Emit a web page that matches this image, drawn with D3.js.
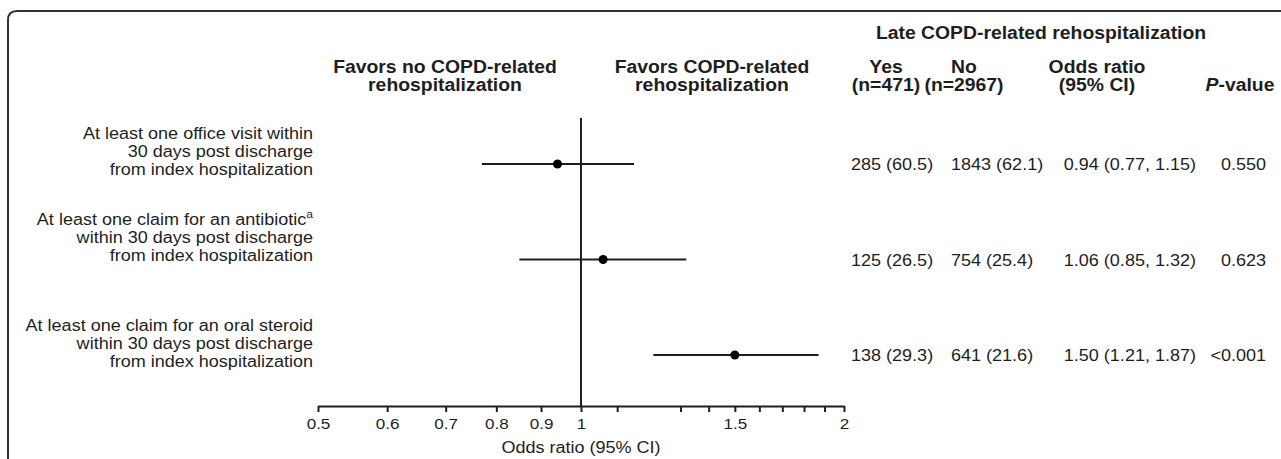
<!DOCTYPE html>
<html><head><meta charset="utf-8">
<script src="https://cdn.jsdelivr.net/npm/d3@7"></script>
<style>
html,body{margin:0;padding:0;background:#fff;}
svg{display:block;font-family:"Liberation Sans",Arial,sans-serif;}
</style></head>
<body>
<svg id="chart" width="1281" height="459"></svg>
<script>
// ---- data ----
const rowLabels = [
  ["At least one office visit within", "30 days post discharge", "from index hospitalization"],
  ["At least one claim for an antibiotic", "within 30 days post discharge", "from index hospitalization"],
  ["At least one claim for an oral steroid", "within 30 days post discharge", "from index hospitalization"]
];
const rowSup = ["", "a", ""];
const oddsRatio = [0.94, 1.06, 1.50];
const ciLow = [0.77, 0.85, 1.21];
const ciHigh = [1.15, 1.32, 1.87];
const yesText = ["285 (60.5)", "125 (26.5)", "138 (29.3)"];
const noText = ["1843 (62.1)", "754 (25.4)", "641 (21.6)"];
const orText = ["0.94 (0.77, 1.15)", "1.06 (0.85, 1.32)", "1.50 (1.21, 1.87)"];
const pText = ["0.550", "0.623", "<0.001"];
const tickValues = [0.5, 0.6, 0.7, 0.8, 0.9, 1, 1.1, 1.3, 1.4, 1.5, 1.6, 1.7, 1.8, 1.9, 2];
const tickLabels = ["0.5", "0.6", "0.7", "0.8", "0.9", "1", "", "", "", "1.5", "", "", "", "", "2"];
const axisTitle = "Odds ratio (95% CI)";
const groupTitle = "Late COPD-related rehospitalization";
const favorLeft = ["Favors no COPD-related", "rehospitalization"];
const favorRight = ["Favors COPD-related", "rehospitalization"];
const colHeads = [["Yes", "(n=471)"], ["No", "(n=2967)"], ["Odds ratio", "(95% CI)"]];

// ---- layout ----
const svg = d3.select("#chart");
const ink = "#1e1e1e";
const fs = 16.4;      // body font size
const fsB = 17.6;     // bold header size
const sx = 1.1;       // horizontal text stretch, as in the reference
const x = d3.scaleLog().domain([0.5, 2]).range([318, 844]);
const y = d3.scalePoint().domain(d3.range(rowLabels.length)).range([164, 355]);
const axisY = 406;
const labelTop = [133, 219, 325];
const lineGap = 18;

// frame
svg.append("path")
  .attr("d", "M8,470 L8,20 Q8,11 17,11 L1285,11")
  .attr("fill", "none").attr("stroke", "#333").attr("stroke-width", 2);

const t = (txt, xx, yy, anchor, weight, size) => svg.append("text")
  .attr("transform", `translate(${xx},${yy}) scale(${sx},1)`)
  .attr("text-anchor", anchor).attr("font-size", size || fs)
  .attr("font-weight", weight || "normal").attr("fill", ink).text(txt);

// header texts
t(groupTitle, 1041, 39, "middle", "bold", fsB);
favorLeft.forEach((s, i) => t(s, 445, 73 + i * lineGap, "middle", "bold", fsB));
favorRight.forEach((s, i) => t(s, 712, 73 + i * lineGap, "middle", "bold", fsB));
const colX = [886, 964, 1097];
colHeads.forEach((h, j) => h.forEach((s, i) => t(s, colX[j], 73 + i * lineGap, "middle", "bold", fsB)));
const pv = t(null, 1240, 91, "middle", "bold", fsB);
pv.append("tspan").attr("font-style", "italic").text("P");
pv.append("tspan").text("-value");

// row labels
rowLabels.forEach((lines, r) => {
  lines.forEach((s, i) => {
    const el = t(s, 313, labelTop[r] + 6 + i * lineGap, "end");
    if (i === 0 && rowSup[r]) {
      el.text(null);
      el.append("tspan").text(s);
      el.append("tspan").attr("font-size", 11).attr("dy", -7).text(rowSup[r]);
    }
  });
});

// reference line at OR = 1
svg.append("line")
  .attr("x1", x(1)).attr("x2", x(1)).attr("y1", 118).attr("y2", axisY)
  .attr("stroke", ink).attr("stroke-width", 2);

// axis
const axis = d3.axisBottom(x).tickValues(tickValues)
  .tickFormat((d, i) => tickLabels[i]).tickSize(6).tickSizeOuter(0).tickPadding(6);
const ag = svg.append("g").attr("transform", `translate(0,${axisY})`).call(axis);
ag.select(".domain").attr("stroke", ink).attr("stroke-width", 2);
ag.selectAll(".tick line").attr("stroke", ink).attr("stroke-width", 2);
ag.selectAll(".tick text").attr("font-size", 15.5).attr("fill", ink)
  .attr("transform", `scale(${sx},1)`)
  .attr("font-family", "'Liberation Sans',Arial,sans-serif");
t(axisTitle, x(1), 453, "middle");

// CI lines and points
const rows = d3.range(rowLabels.length);
svg.selectAll(".ci").data(rows).join("line").attr("class", "ci")
  .attr("x1", d => x(ciLow[d])).attr("x2", d => x(ciHigh[d]))
  .attr("y1", d => y(d)).attr("y2", d => y(d))
  .attr("stroke", ink).attr("stroke-width", 2);
svg.selectAll(".pt").data(rows).join("circle").attr("class", "pt")
  .attr("cx", d => x(oddsRatio[d])).attr("cy", d => y(d)).attr("r", 4.5).attr("fill", "#000");

// table columns
rows.forEach(r => {
  const yy = y(r) + 6;
  t(yesText[r], 851, yy, "start");
  t(noText[r], 951, yy, "start");
  t(orText[r], 1196, yy, "end");
  t(pText[r], 1266, yy, "end");
});
</script>
</body></html>
